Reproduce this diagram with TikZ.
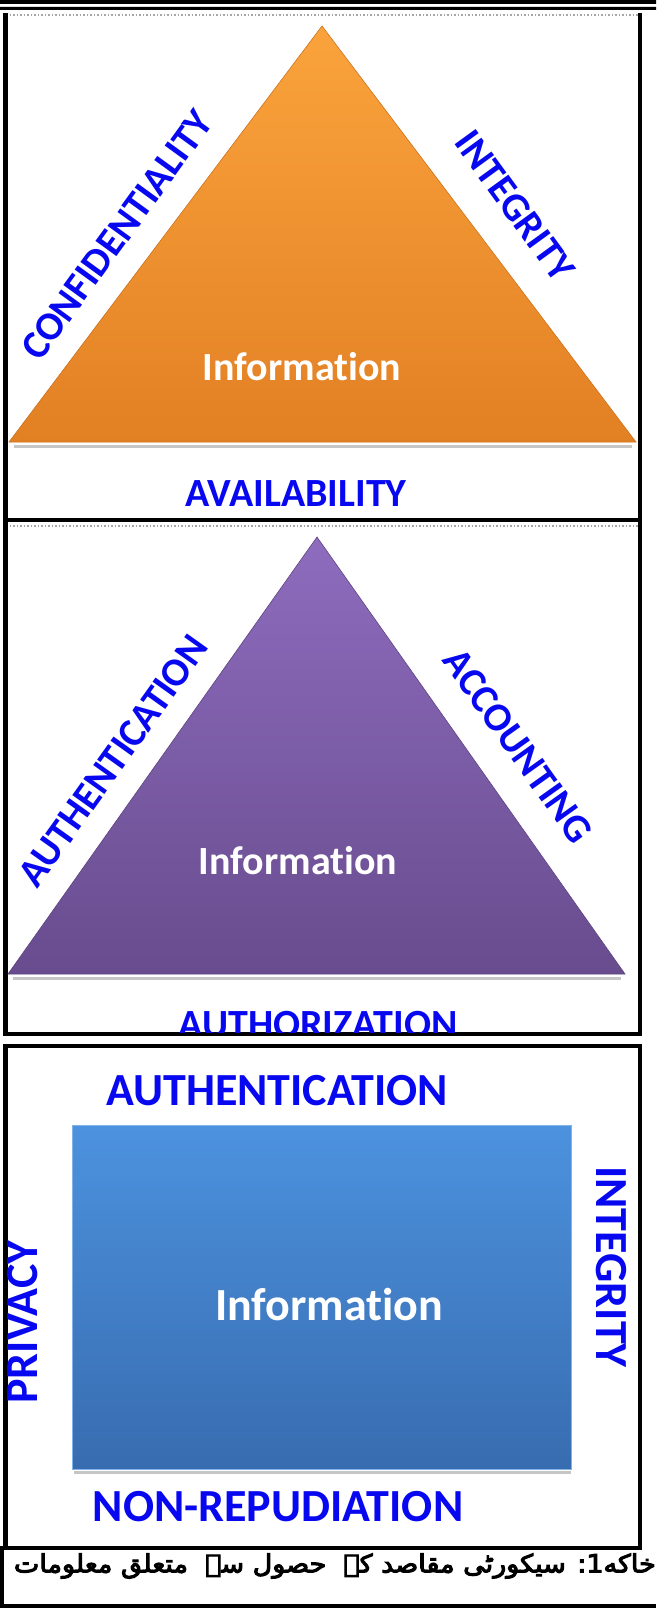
\documentclass[tikz,border=0pt]{standalone}
\usepackage{fontspec}
\setmainfont{Carlito}[Ligatures=NoCommon]
\newfontfamily\arabicfont[Script=Arabic,FakeBold=4]{DejaVu Sans}
\TeXXeTstate=1
\definecolor{lblblue}{RGB}{8,8,240}
\definecolor{orangetop}{RGB}{250,163,60}
\definecolor{orangebot}{RGB}{226,128,36}
\definecolor{purpletop}{RGB}{142,108,190}
\definecolor{purplebot}{RGB}{104,76,142}
\definecolor{bluetop}{RGB}{76,146,222}
\definecolor{bluebot}{RGB}{56,108,176}
\begin{document}
\begin{tikzpicture}[x=1pt,y=-1pt,
	lbl/.style={text=lblblue,inner sep=0pt,font=\bfseries\fontsize{40}{44}\selectfont},
	biglbl/.style={lbl,font=\bfseries\fontsize{46}{50}\selectfont},
	info/.style={text=white,inner sep=0pt,font=\bfseries\fontsize{40}{44}\selectfont},
	bigInfo/.style={info,font=\bfseries\fontsize{46}{50}\selectfont},
	frame/.style={line width=4.5pt},
	topedge/.style={gray!70,line width=1.5pt,dotted},
	baseshadow/.style={gray!45,line width=3pt}]
		\useasboundingbox (0,0) rectangle (656,1608);
		\fill (0,0) rectangle (656,4) (0,7) rectangle (656,10);
		\draw[topedge] (6,15)--(640,15);
		\draw[frame] (5.5,13)--(5.5,520)--(640,520)--(640,13);
		\draw[baseshadow] (14,446)--(632,446);
		\shade[top color=orangetop,bottom color=orangebot,draw=orangebot!90!black,line width=0.6pt] (322,26)--(636,442)--(9,442)--cycle;
		\node[info] (info1) at (302,367) {Information};
		\node[lbl,rotate=54] (conf) at (117,235) {CONFIDENTIALITY};
		\node[lbl,rotate=-54] (integ1) at (515,206) {INTEGRITY};
		\node[lbl] (avail) at (296,494) {AVAILABILITY};
		\draw[topedge] (6,526)--(640,526);
		\draw[frame] (5.5,522)--(5.5,1034)--(640,1034)--(640,522);
		\draw[baseshadow] (13,978)--(621,978);
		\shade[top color=purpletop,bottom color=purplebot,draw=purplebot!90!black,line width=0.6pt] (317,537)--(625,974)--(8,974)--cycle;
		\node[info] (info2) at (298,861) {Information};
		\node[lbl,rotate=54.5] (authn1) at (113,761) {AUTHENTICATION};
		\node[lbl,rotate=-54.5] (acct) at (518,746) {ACCOUNTING};
		\begin{scope}
			\clip (8,528) rectangle (638,1032);
			\node[lbl,anchor=base] (authz) at (318,1037) {AUTHORIZATION};
		\end{scope}
		\draw[frame] (3.3,1046)--(642.2,1046) (5.5,1046)--(5.5,1548)--(640,1548)--(640,1046);
		\node[biglbl] (authn2) at (277,1091) {AUTHENTICATION};
		\draw[baseshadow] (74,1472)--(571,1472);
		\shade[top color=bluetop,bottom color=bluebot,draw=bluetop!70!white,line width=1pt] (72,1125) rectangle (571,1469);
		\node[bigInfo] (info3) at (329,1305) {Information};
		\node[biglbl,rotate=-90] (integ2) at (611,1267) {INTEGRITY};
		\node[biglbl,rotate=90] (priv) at (23,1322) {PRIVACY};
		\node[biglbl] (nonrep) at (278,1507) {NON-REPUDIATION};
		\draw[frame] (2,1546)--(2,1606)--(656,1606);
		\node[anchor=east,inner sep=0pt,font=\arabicfont\fontsize{25}{30}\selectfont] (caption) at (656,1566) {\scalebox{1.08}[1]{\beginR خاکه1: سیکورٹی مقاصد کے\ \ حصول سے\ \ متعلق معلومات\endR}};
	\end{tikzpicture}
\end{document}
